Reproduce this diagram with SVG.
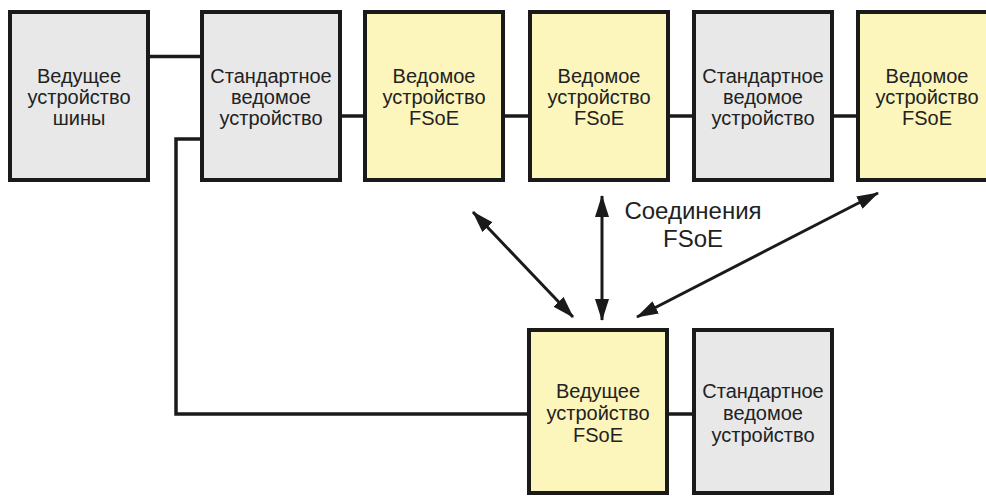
<svg xmlns="http://www.w3.org/2000/svg" width="986" height="496" viewBox="0 0 986 496">
<style>
.box{stroke:#1a1a1a;stroke-width:4}
.g{fill:#e8e8e8}
.y{fill:#fcf5bc}
.t{font-family:"Liberation Sans",Arial,sans-serif;font-size:20px;fill:#222;text-anchor:middle}
.lbl{font-size:24px}
.ln{fill:none;stroke:#1a1a1a;stroke-width:3.5}
.ar{fill:none;stroke:#1a1a1a;stroke-width:3;marker-start:url(#ah);marker-end:url(#ah)}
</style>
<defs>
<marker id="ah" viewBox="0 0 22 14" refX="21" refY="7" markerWidth="22" markerHeight="14" markerUnits="userSpaceOnUse" orient="auto-start-reverse">
<path d="M0,0 L22,7 L0,14 z" fill="#1a1a1a"/>
</marker>
</defs>
<rect width="986" height="496" fill="#fff"/>
<g id="connectors">
<line class="ln" x1="148" y1="56.5" x2="202" y2="56.5"/>
<line class="ln" x1="340" y1="116" x2="365" y2="116"/>
<line class="ln" x1="503" y1="116" x2="530" y2="116"/>
<line class="ln" x1="668" y1="116" x2="694" y2="116"/>
<line class="ln" x1="832" y1="116" x2="858" y2="116"/>
<path class="ln" d="M202,139 H176 V414 H529"/>
<line class="ln" x1="667" y1="414" x2="694" y2="414"/>
<line class="ar" x1="473" y1="212" x2="573" y2="317"/>
<line class="ar" x1="602" y1="196" x2="602" y2="320"/>
<line class="ar" x1="878" y1="193" x2="637" y2="317"/>
</g>
<g id="n1"><rect class="box g" x="10" y="12" width="138" height="168"/>
<text class="t" x="79" y="83">Ведущее</text><text class="t" x="79" y="104">устройство</text><text class="t" x="79" y="125">шины</text></g>
<g id="n2"><rect class="box g" x="202" y="12" width="138" height="168"/>
<text class="t" x="271" y="83">Стандартное</text><text class="t" x="271" y="104">ведомое</text><text class="t" x="271" y="125">устройство</text></g>
<g id="n3"><rect class="box y" x="365" y="12" width="138" height="168"/>
<text class="t" x="434" y="83">Ведомое</text><text class="t" x="434" y="104">устройство</text><text class="t" x="434" y="125">FSoE</text></g>
<g id="n4"><rect class="box y" x="530" y="12" width="138" height="168"/>
<text class="t" x="599" y="83">Ведомое</text><text class="t" x="599" y="104">устройство</text><text class="t" x="599" y="125">FSoE</text></g>
<g id="n5"><rect class="box g" x="694" y="12" width="138" height="168"/>
<text class="t" x="763" y="83">Стандартное</text><text class="t" x="763" y="104">ведомое</text><text class="t" x="763" y="125">устройство</text></g>
<g id="n6"><rect class="box y" x="858" y="12" width="140" height="168"/>
<text class="t" x="927" y="83">Ведомое</text><text class="t" x="927" y="104">устройство</text><text class="t" x="927" y="125">FSoE</text></g>
<g id="n7"><rect class="box y" x="529" y="330" width="138" height="163"/>
<text class="t" x="598" y="398">Ведущее</text><text class="t" x="598" y="420">устройство</text><text class="t" x="598" y="442">FSoE</text></g>
<g id="n8"><rect class="box g" x="694" y="330" width="138" height="163"/>
<text class="t" x="763" y="398">Стандартное</text><text class="t" x="763" y="420">ведомое</text><text class="t" x="763" y="442">устройство</text></g>
<g id="label"><text class="t lbl" x="693" y="219">Соединения</text><text class="t lbl" x="693" y="247">FSoE</text></g>
</svg>
